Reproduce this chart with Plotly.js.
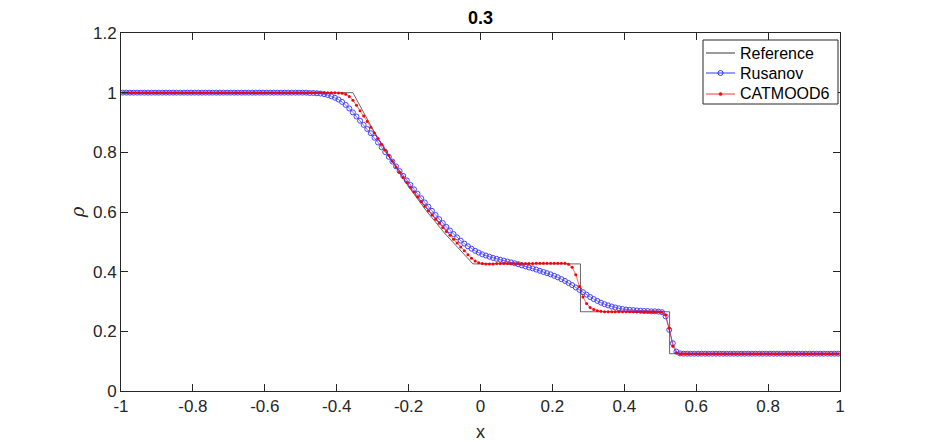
<!DOCTYPE html>
<html>
<head>
<meta charset="utf-8">
<script src="https://cdn.plot.ly/plotly-3.0.1.min.js"></script>
<style>html,body{margin:0;padding:0;background:#fff;}#chart{width:930px;height:445px;}</style>
</head>
<body>
<div id="chart"></div>
<script>
// Cell-centred numerical solutions: 200 cells, first centre at -0.995, spacing 0.01
const cellX0 = -0.995;
const cellDx = 0.01;

// Exact (reference) solution
const refX = [-1, -0.355, -0.3, -0.25, -0.2, -0.15, -0.1, -0.05, -0.021, 0.278, 0.278, 0.526, 0.526, 1];
const refRho = [1, 1, 0.878, 0.777, 0.685, 0.603, 0.529, 0.462, 0.426, 0.426, 0.2656, 0.2656, 0.125, 0.125];

// Rusanov (200 cells)
const rusanovRho = [
  1,1,1,1,1,1,1,1,1,1,
  1,1,1,1,1,1,1,1,1,1,
  1,1,1,1,1,1,1,1,1,1,
  1,1,1,1,1,1,1,1,1,1,
  1,1,1,1,1,1,1,1,1,1,
  1.000,1.000,0.999,0.999,0.998,0.997,0.995,0.992,0.988,0.983,
  0.977,0.969,0.959,0.947,0.934,0.920,0.906,0.892,0.878,0.864,
  0.849,0.833,0.817,0.801,0.785,0.769,0.753,0.737,0.721,0.706,
  0.691,0.676,0.661,0.646,0.632,0.618,0.604,0.590,0.576,0.563,
  0.550,0.538,0.526,0.515,0.504,0.494,0.485,0.477,0.470,0.464,
  0.458,0.454,0.450,0.446,0.443,0.440,0.437,0.434,0.431,0.428,
  0.425,0.421,0.418,0.414,0.411,0.407,0.403,0.399,0.395,0.391,
  0.386,0.381,0.375,0.369,0.362,0.355,0.347,0.339,0.331,0.323,
  0.315,0.308,0.302,0.296,0.291,0.287,0.283,0.280,0.277,0.275,
  0.273,0.272,0.271,0.270,0.269,0.268,0.268,0.267,0.267,0.266,
  0.264,0.250,0.205,0.160,0.132,0.126,0.125,0.125,0.125,0.125,
  0.125,0.125,0.125,0.125,0.125,0.125,0.125,0.125,0.125,0.125,
  0.125,0.125,0.125,0.125,0.125,0.125,0.125,0.125,0.125,0.125,
  0.125,0.125,0.125,0.125,0.125,0.125,0.125,0.125,0.125,0.125,
  0.125,0.125,0.125,0.125,0.125,0.125,0.125,0.125,0.125,0.125
];

// CATMOOD6 (200 cells)
const catmoodRho = [
  1,1,1,1,1,1,1,1,1,1,
  1,1,1,1,1,1,1,1,1,1,
  1,1,1,1,1,1,1,1,1,1,
  1,1,1,1,1,1,1,1,1,1,
  1,1,1,1,1,1,1,1,1,1,
  1,1,1,1,1,1,1,1,1,1.000,
  0.999,0.998,0.995,0.987,0.975,0.958,0.939,0.922,0.903,0.884,
  0.865,0.846,0.827,0.808,0.789,0.770,0.751,0.733,0.716,0.699,
  0.683,0.667,0.650,0.634,0.619,0.604,0.590,0.576,0.562,0.548,
  0.535,0.522,0.509,0.496,0.483,0.470,0.457,0.445,0.436,0.430,
  0.427,0.426,0.426,0.426,0.427,0.427,0.427,0.427,0.427,0.427,
  0.427,0.427,0.427,0.427,0.427,0.428,0.428,0.428,0.428,0.428,
  0.428,0.428,0.428,0.428,0.425,0.415,0.390,0.350,0.315,0.293,
  0.280,0.273,0.269,0.267,0.266,0.266,0.266,0.266,0.266,0.266,
  0.266,0.266,0.266,0.266,0.266,0.266,0.266,0.266,0.266,0.266,
  0.264,0.255,0.210,0.150,0.128,0.125,0.125,0.125,0.125,0.125,
  0.125,0.125,0.125,0.125,0.125,0.125,0.125,0.125,0.125,0.125,
  0.125,0.125,0.125,0.125,0.125,0.125,0.125,0.125,0.125,0.125,
  0.125,0.125,0.125,0.125,0.125,0.125,0.125,0.125,0.125,0.125,
  0.125,0.125,0.125,0.125,0.125,0.125,0.125,0.125,0.125,0.125
];

const seriesNames = ['Reference', 'Rusanov', 'CATMOOD6'];
const xTickVals = [-1, -0.8, -0.6, -0.4, -0.2, 0, 0.2, 0.4, 0.6, 0.8, 1];
const xTickText = ['-1', '-0.8', '-0.6', '-0.4', '-0.2', '0', '0.2', '0.4', '0.6', '0.8', '1'];
const yTickVals = [0, 0.2, 0.4, 0.6, 0.8, 1, 1.2];
const yTickText = ['0', '0.2', '0.4', '0.6', '0.8', '1', '1.2'];
const titleText = '0.3';

const FONT = 'Liberation Sans, Arial, Helvetica, sans-serif';
const AX = '#262626';
const BLUE = '#2f2fff';
const RED = '#ff0000';

const traces = [
  {
    x: refX, y: refRho, name: seriesNames[0], type: 'scatter', mode: 'lines',
    line: {color: '#000000', width: 0.6}
  },
  {
    x0: cellX0, dx: cellDx, y: rusanovRho, name: seriesNames[1], type: 'scatter', mode: 'lines+markers',
    line: {color: '#0000ff', width: 0.6},
    marker: {symbol: 'circle-open', size: 5, color: BLUE, line: {width: 1, color: BLUE}},
    opacity: 0.9
  },
  {
    x0: cellX0, dx: cellDx, y: catmoodRho, name: seriesNames[2], type: 'scatter', mode: 'lines+markers',
    line: {color: RED, width: 0.6},
    marker: {symbol: 'circle', size: 3, color: RED}
  }
];

// ---- Legend (MATLAB style box), placed in plot-paper fractions ----
const L = 121, T = 33, W = 719, H = 358;           // plot area in px
const px = v => (v - L) / W;                       // px -> paper x
const py = v => (T + H - v) / H;                   // px -> paper y
const legBox = {x0: 703, x1: 838, y0: 40, y1: 104};
const legRows = [53, 73, 94];
const sampleX = [706, 735];
const textX = 738;
const legStyles = [
  {line: '#000000', marker: null},
  {line: '#0000ff', marker: 'open'},
  {line: RED, marker: 'dot'}
];

const shapes = [{
  type: 'rect', xref: 'paper', yref: 'paper',
  x0: px(legBox.x0), x1: px(legBox.x1), y0: py(legBox.y1), y1: py(legBox.y0),
  line: {color: '#262626', width: 1}, fillcolor: '#ffffff', layer: 'above'
}];
const annotations = [];
legRows.forEach((r, i) => {
  const st = legStyles[i];
  shapes.push({
    type: 'line', xref: 'paper', yref: 'paper',
    x0: px(sampleX[0]), x1: px(sampleX[1]), y0: py(r), y1: py(r),
    line: {color: st.line, width: 0.8}, layer: 'above'
  });
  const cx = px((sampleX[0] + sampleX[1]) / 2), cy = py(r);
  if (st.marker === 'open') {
    shapes.push({
      type: 'circle', xref: 'paper', yref: 'paper', xsizemode: 'pixel', ysizemode: 'pixel',
      xanchor: cx, yanchor: cy, x0: -2.5, x1: 2.5, y0: -2.5, y1: 2.5,
      line: {color: BLUE, width: 1}, fillcolor: 'rgba(0,0,0,0)', layer: 'above'
    });
  } else if (st.marker === 'dot') {
    shapes.push({
      type: 'circle', xref: 'paper', yref: 'paper', xsizemode: 'pixel', ysizemode: 'pixel',
      xanchor: cx, yanchor: cy, x0: -1.5, x1: 1.5, y0: -1.5, y1: 1.5,
      line: {color: RED, width: 0.5}, fillcolor: RED, layer: 'above'
    });
  }
  annotations.push({
    xref: 'paper', yref: 'paper', x: px(textX), y: py(r), xanchor: 'left', yanchor: 'middle',
    text: seriesNames[i], showarrow: false, font: {family: FONT, size: 16, color: '#000000'}
  });
});

const axisCommon = {
  showgrid: false, zeroline: false, showline: true, linecolor: AX, linewidth: 1,
  mirror: 'ticks', ticks: 'inside', ticklen: 7, tickcolor: AX, tickwidth: 1,
  tickfont: {family: FONT, size: 17, color: AX}
};

const layout = {
  width: 930, height: 445,
  margin: {l: 121, r: 90, t: 33, b: 54},
  paper_bgcolor: '#ffffff', plot_bgcolor: '#ffffff',
  font: {family: FONT, color: AX},
  showlegend: false,
  title: {
    text: '<b>' + titleText + '</b>',
    font: {family: FONT, size: 18, color: '#000000'},
    x: 0.5, xref: 'paper', xanchor: 'center',
    y: 1 - 18 / 445, yref: 'container', yanchor: 'middle'
  },
  xaxis: Object.assign({}, axisCommon, {
    range: [-1, 1], tickmode: 'array', tickvals: xTickVals, ticktext: xTickText,
    title: {text: 'x', font: {family: FONT, size: 18, color: AX}, standoff: 9}
  }),
  yaxis: Object.assign({}, axisCommon, {
    range: [0, 1.2], tickmode: 'array', tickvals: yTickVals, ticktext: yTickText,
    title: {text: '<i>ρ</i>', font: {family: 'DejaVu Serif, serif', size: 18, color: AX}, standoff: 3}
  }),
  shapes: shapes,
  annotations: annotations
};

Plotly.newPlot('chart', traces, layout, {staticPlot: true, displayModeBar: false});
</script>
</body>
</html>
